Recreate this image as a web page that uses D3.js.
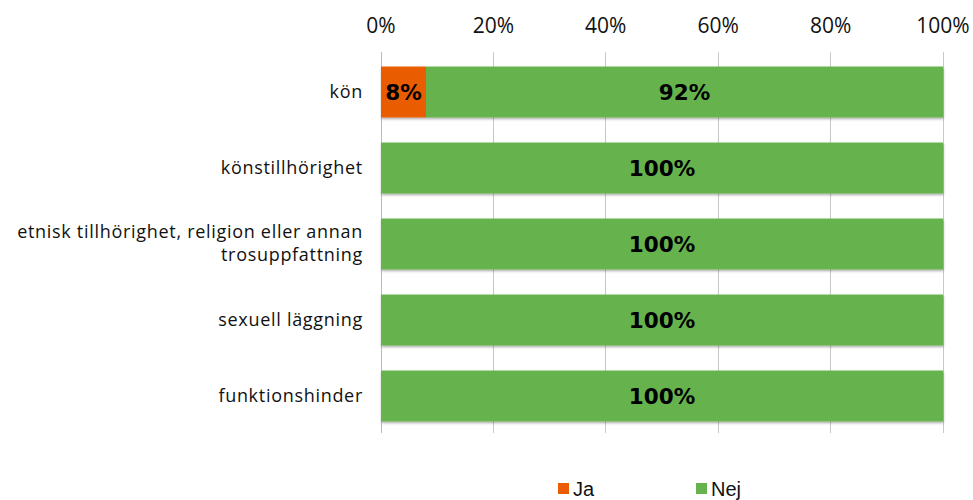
<!DOCTYPE html>
<html>
<head>
<meta charset="utf-8">
<script src="https://cdn.jsdelivr.net/npm/d3@7"></script>
<style>
  html, body { margin: 0; padding: 0; background: #fff; }
  svg { display: block; font-family: "Open Sans", "Liberation Sans", Arial, sans-serif; }
</style>
</head>
<body>
<svg id="chart" width="973" height="500"></svg>
<script>
// Survey categories (each may span several lines)
const categories = [
  ["kön"],
  ["könstillhörighet"],
  ["etnisk tillhörighet, religion eller annan", "trosuppfattning"],
  ["sexuell läggning"],
  ["funktionshinder"]
];
const seriesNames = ["Ja", "Nej"];
const jaValues  = [8, 0, 0, 0, 0];
const nejValues = [92, 100, 100, 100, 100];
const tickValues = [0, 20, 40, 60, 80, 100];
const colors = ["#EA5B02", "#66B34D"];

const svg = d3.select("#chart");
const x = d3.scaleLinear().domain([0, 100]).range([381, 943]);
const y = d3.scaleBand().domain(d3.range(categories.length)).range([54, 434])
  .paddingInner(0.33).paddingOuter(0.165);

const defs = svg.append("defs");
const f = defs.append("filter").attr("id", "shadow").attr("x", "-5%").attr("y", "-20%").attr("width", "110%").attr("height", "150%");
f.append("feDropShadow").attr("dx", 0.5).attr("dy", 1.5).attr("stdDeviation", 1.2).attr("flood-color", "#000").attr("flood-opacity", 0.35);

// Vertical gridlines
svg.append("g").selectAll("line").data(tickValues).join("line")
  .attr("x1", d => x(d)).attr("x2", d => x(d))
  .attr("y1", 52).attr("y2", 433)
  .attr("stroke", d => d === 0 ? "#bbb" : "#c8c8c8").attr("stroke-width", 1)
  .attr("shape-rendering", "crispEdges");

// Top axis labels
svg.append("g").selectAll("text").data(tickValues).join("text")
  .attr("x", d => x(d)).attr("y", 33)
  .attr("text-anchor", "middle").attr("font-size", 21).attr("fill", "#111")
  .text(d => d + "%");

// Stacked bars
const rows = categories.map((c, i) => {
  const vals = [jaValues[i], nejValues[i]];
  let acc = 0;
  return vals.map((v, k) => { const s = acc; acc += v; return { i, k, v, x0: s, x1: acc }; });
});
const segs = rows.flat().filter(d => d.v > 0);

svg.append("g").attr("filter", "url(#shadow)").selectAll("rect").data(segs).join("rect")
  .attr("x", d => x(d.x0)).attr("width", d => x(d.x1) - x(d.x0))
  .attr("y", d => y(d.i)).attr("height", y.bandwidth())
  .attr("fill", d => colors[d.k]);

svg.append("g").selectAll("text").data(segs).join("text")
  .attr("x", d => (x(d.x0) + x(d.x1)) / 2)
  .attr("y", d => y(d.i) + y.bandwidth() / 2 + 8)
  .attr("text-anchor", "middle").attr("font-size", 21.5).attr("font-weight", "bold")
  .attr("font-family", "'DejaVu Sans', sans-serif")
  .attr("fill", "#000")
  .text(d => d.v + "%");

// Category labels
const lab = svg.append("g").selectAll("text").data(categories).join("text")
  .attr("text-anchor", "end").attr("font-size", 18).attr("letter-spacing", 0.7).attr("fill", "#111")
  .attr("y", (d, i) => y(i) + y.bandwidth() / 2 + 5.5 - (d.length - 1) * 11.25);
lab.selectAll("tspan").data(d => d).join("tspan")
  .attr("x", 363).attr("dy", (d, j) => j === 0 ? 0 : 22.5).text(d => d);

// Legend
const legX = [558, 696];
const leg = svg.append("g").selectAll("g").data(seriesNames).join("g")
  .attr("transform", (d, i) => `translate(${legX[i]},0)`);
leg.append("rect").attr("x", 0).attr("y", 483).attr("width", 11).attr("height", 11)
  .attr("fill", (d, i) => colors[i]);
leg.append("text").attr("x", 15).attr("y", 496).attr("font-size", 20)
  .attr("font-family", "'Liberation Sans', Arial, sans-serif").attr("fill", "#111").text(d => d);
</script>
</body>
</html>
